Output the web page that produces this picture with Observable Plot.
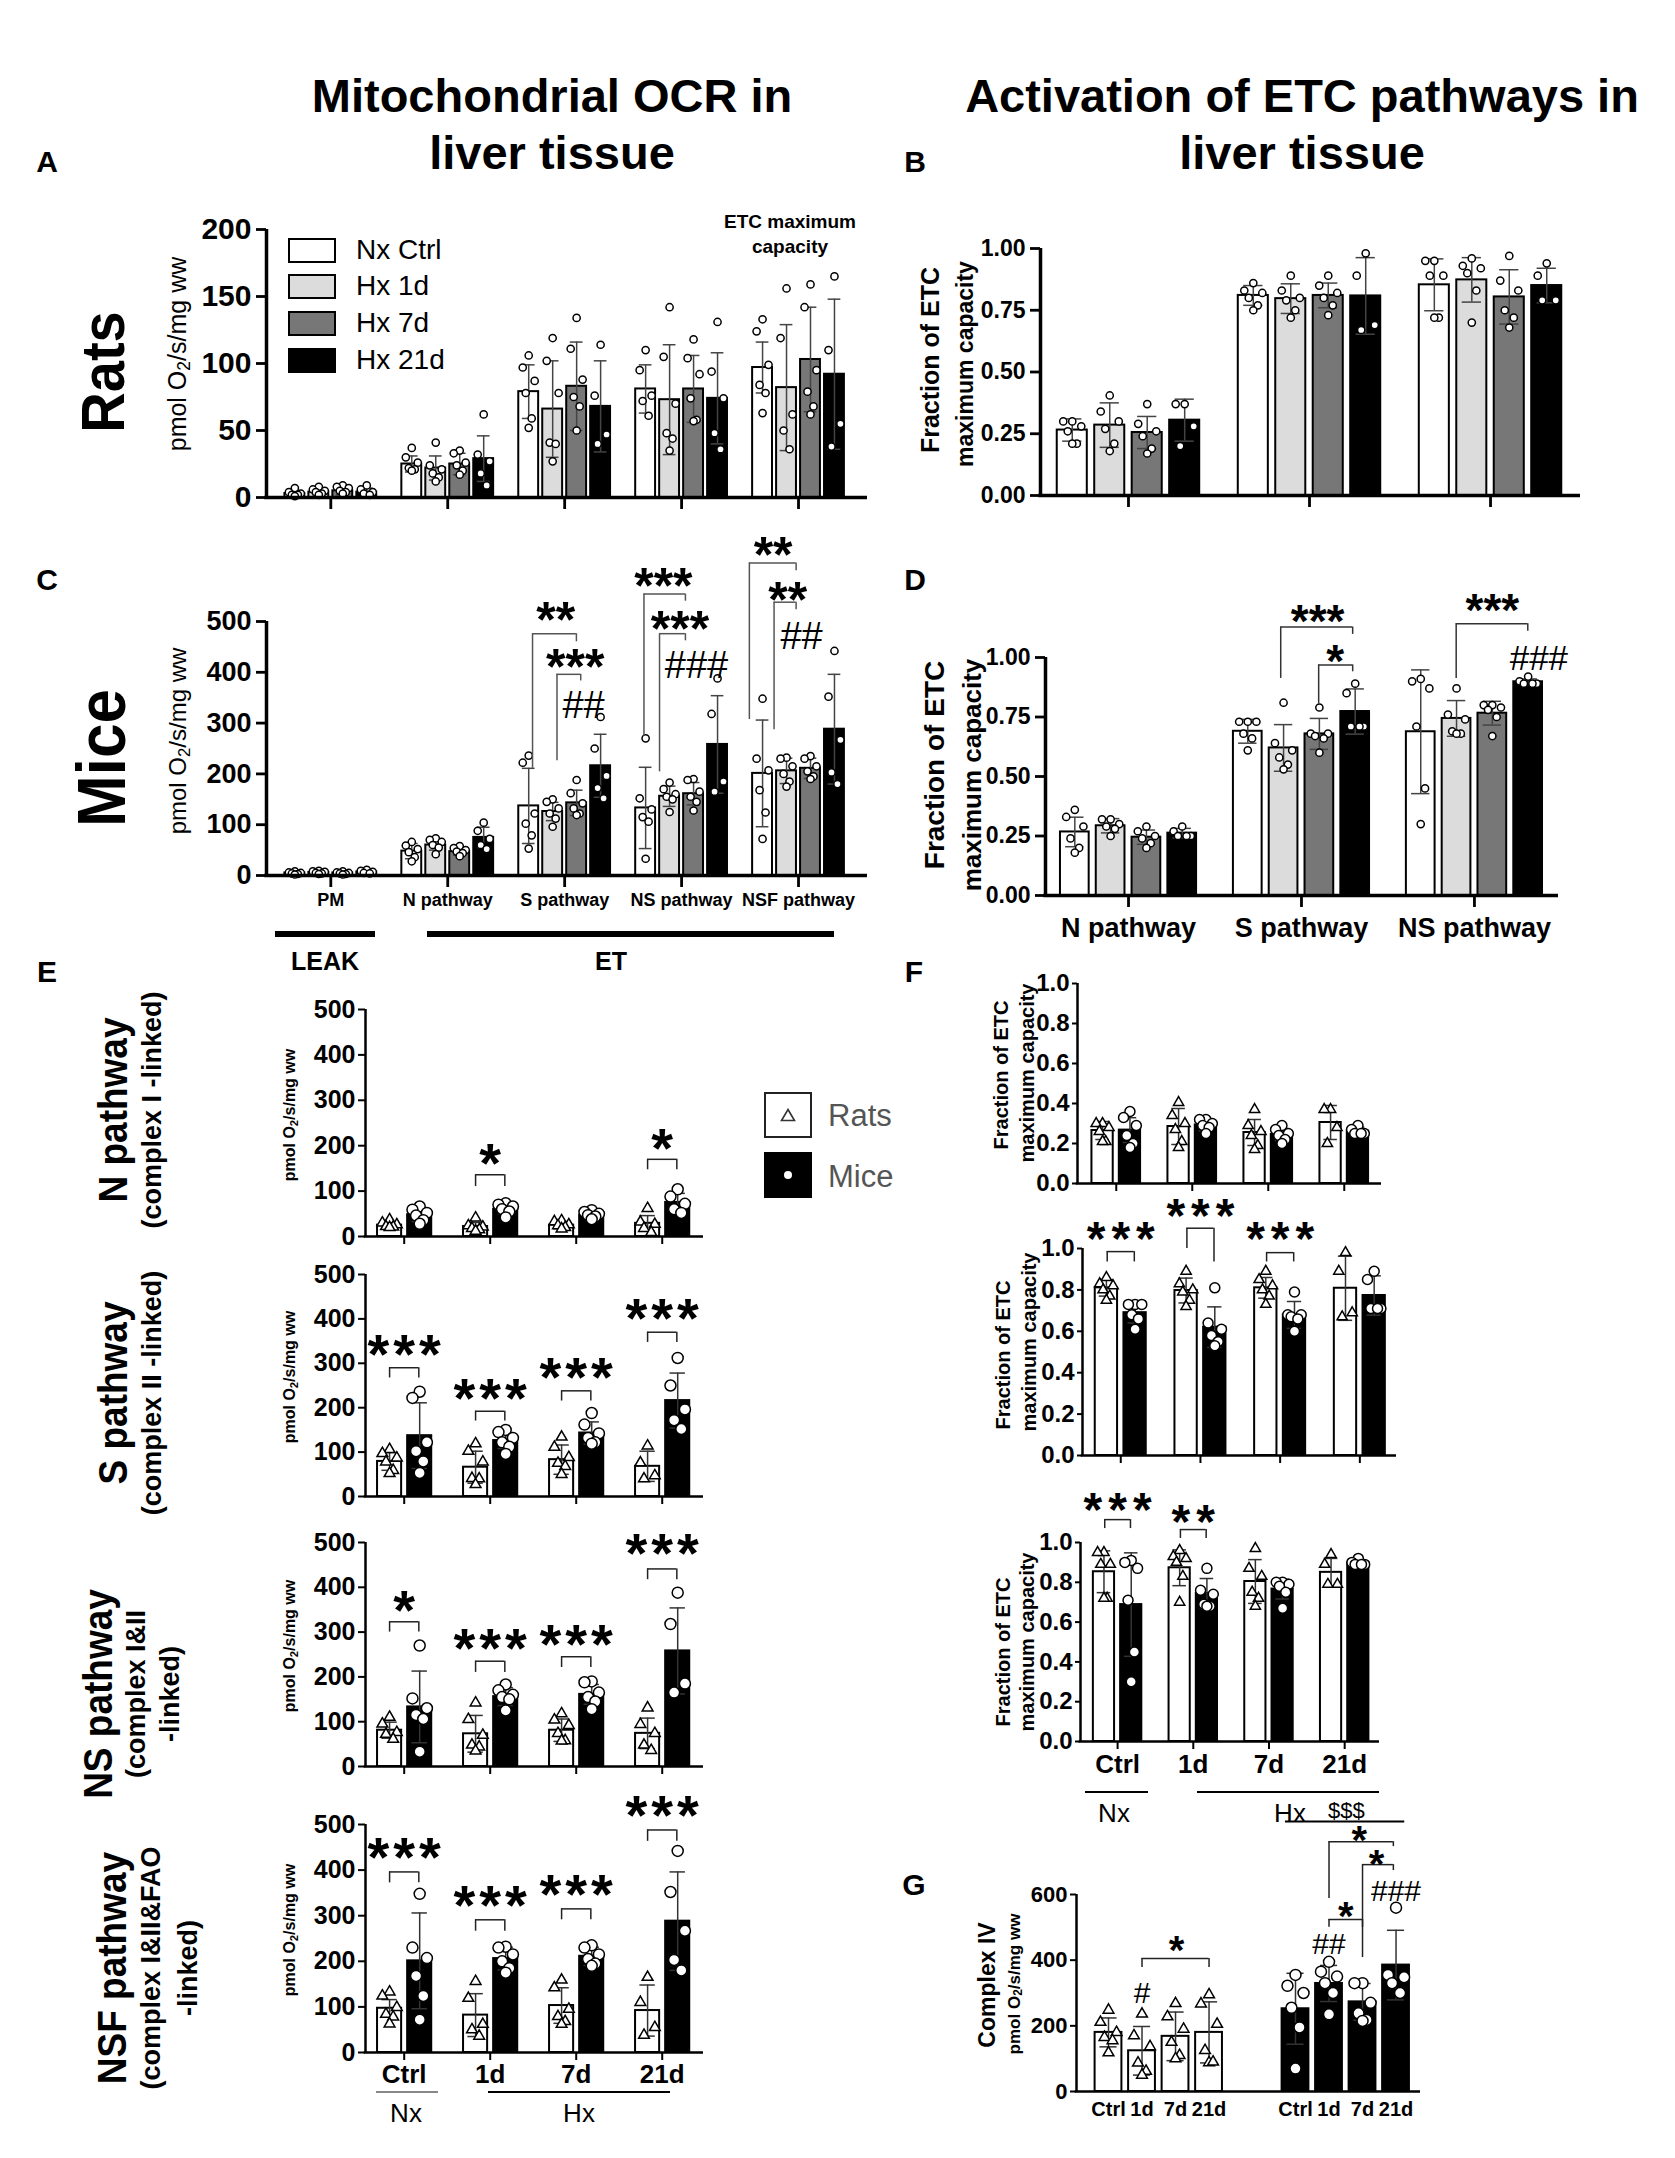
<!DOCTYPE html>
<html>
<head>
<meta charset="utf-8">
<script src="https://cdn.jsdelivr.net/npm/d3@7"></script>
<script src="https://cdn.jsdelivr.net/npm/@observablehq/plot@0.6"></script>
<style>
html,body{margin:0;padding:0;background:#fff;}
#page{position:relative;width:1675px;height:2158px;overflow:hidden;background:#fff;}
sub{font-size:0.7em;vertical-align:-0.25em;line-height:0;}
</style>
</head>
<body>
<div id="page"></div>
<script>
// ======================= DATA =======================
const groups = ["Nx Ctrl", "Hx 1d", "Hx 7d", "Hx 21d"];
const times = ["Ctrl", "1d", "7d", "21d"];
const ocrCats = ["PM", "N pathway", "S pathway", "NS pathway", "NSF pathway"];
const fracCats = ["N pathway", "S pathway", "NS pathway"];

// Panel A: rats OCR (pmol O2/s/mg ww), [category][group]
const ratsOcrMean = [[3, 4, 5, 4], [25, 22, 25, 29], [79, 66, 83, 68], [81, 73, 81, 74], [97, 82, 103, 92]];
const ratsOcrSd = [[2, 2, 3, 3], [6, 9, 8, 17], [20, 36, 33, 34], [18, 41, 25, 34], [19, 47, 39, 56]];
const ratsOcrPts = [
  [[7, 4, 3, 2, 2, 1], [8, 6, 5, 4, 3, 2], [9, 8, 7, 5, 4, 3], [9, 6, 4, 3, 2]],
  [[37, 30, 26, 22, 21, 20], [41, 24, 21, 18, 15, 12], [35, 33, 26, 24, 20, 17], [62, 32, 27, 18, 9]],
  [[106, 97, 87, 78, 59, 52], [119, 102, 78, 41, 40, 27], [134, 111, 88, 75, 68, 50], [114, 76, 47, 40]],
  [[110, 95, 76, 72, 61], [142, 105, 70, 48, 44, 35], [118, 104, 92, 74, 58, 57], [131, 94, 74, 48, 36]],
  [[133, 124, 99, 84, 78, 63], [156, 119, 62, 50, 36], [159, 142, 95, 79, 68, 62], [165, 110, 55, 38]]
];

// Panel C: mice OCR
const miceOcrMean = [[5, 6, 5, 7], [48, 60, 47, 75], [137, 126, 143, 216], [133, 156, 161, 258], [201, 206, 211, 288]];
const miceOcrSd = [[2, 2, 2, 3], [15, 10, 7, 20], [74, 18, 25, 62], [80, 20, 22, 96], [105, 25, 20, 108]];
const miceOcrPts = [
  [[8, 6, 5, 4, 3, 2], [9, 8, 7, 5, 4, 3], [8, 6, 5, 4, 3, 2], [11, 9, 7, 5, 4]],
  [[66, 59, 52, 46, 36, 28], [73, 70, 66, 60, 55, 42], [58, 54, 50, 47, 44, 38], [104, 88, 72, 60, 52]],
  [[236, 222, 122, 102, 79, 53], [150, 145, 132, 122, 112, 96], [188, 162, 142, 132, 122, 119], [312, 250, 196, 172, 152]],
  [[270, 152, 130, 115, 106, 33], [183, 170, 160, 155, 150, 125], [190, 188, 165, 155, 145, 128], [388, 318, 185, 165]],
  [[348, 230, 207, 168, 124, 72], [232, 230, 215, 200, 185, 175], [235, 230, 215, 205, 195, 190], [442, 352, 267, 203, 180]]
];

// Panel B: rats fraction of ETC maximum capacity
const ratsFracMean = [[0.265, 0.285, 0.255, 0.305], [0.81, 0.797, 0.81, 0.808], [0.853, 0.873, 0.804, 0.85]];
const ratsFracSd = [[0.045, 0.09, 0.065, 0.085], [0.04, 0.06, 0.05, 0.155], [0.105, 0.09, 0.11, 0.07]];
const ratsFracPts = [
  [[0.30, 0.30, 0.28, 0.26, 0.21, 0.21], [0.405, 0.34, 0.30, 0.27, 0.21, 0.18], [0.37, 0.29, 0.26, 0.24, 0.19, 0.17], [0.37, 0.37, 0.28, 0.20]],
  [[0.86, 0.83, 0.82, 0.80, 0.77, 0.75], [0.89, 0.83, 0.80, 0.79, 0.75, 0.72], [0.89, 0.85, 0.82, 0.80, 0.77, 0.73], [0.98, 0.89, 0.69, 0.67]],
  [[0.95, 0.95, 0.89, 0.89, 0.72, 0.72], [0.96, 0.93, 0.92, 0.90, 0.83, 0.70], [0.97, 0.87, 0.83, 0.75, 0.72, 0.68], [0.94, 0.89, 0.79, 0.79]]
];

// Panel D: mice fraction of ETC maximum capacity
const miceFracMean = [[0.267, 0.293, 0.245, 0.262], [0.69, 0.62, 0.679, 0.773], [0.688, 0.744, 0.766, 0.898]];
const miceFracSd = [[0.062, 0.03, 0.03, 0.02], [0.05, 0.098, 0.065, 0.095], [0.26, 0.075, 0.05, 0.012]];
const miceFracPts = [
  [[0.36, 0.33, 0.29, 0.24, 0.20, 0.18], [0.32, 0.32, 0.30, 0.29, 0.28, 0.25], [0.29, 0.27, 0.25, 0.24, 0.22, 0.20], [0.29, 0.27, 0.25, 0.25, 0.25]],
  [[0.73, 0.73, 0.73, 0.68, 0.66, 0.61], [0.81, 0.64, 0.61, 0.58, 0.55, 0.53], [0.79, 0.68, 0.68, 0.67, 0.66, 0.60], [0.89, 0.85, 0.71, 0.71, 0.71]],
  [[0.91, 0.90, 0.87, 0.71, 0.45, 0.30], [0.87, 0.76, 0.74, 0.69, 0.68, 0.68], [0.80, 0.80, 0.79, 0.78, 0.75, 0.67], [0.92, 0.90, 0.89, 0.89, 0.89]]
];

// Panel G: complex IV, [species][time]
const civSpecies = ["Rats", "Mice"];
const civMean = [[180, 124, 168, 180], [252, 329, 273, 385]];
const civSd = [[44, 74, 74, 93], [108, 55, 56, 106]];
const civPts = [
  [[248, 211, 180, 165, 155, 118], [236, 170, 137, 87, 62, 50], [268, 228, 190, 150, 110, 100], [295, 267, 205, 125, 88, 90]],
  [[355, 322, 300, 255, 195, 70], [395, 365, 350, 330, 300, 235], [330, 330, 270, 238, 218, 215], [560, 355, 348, 330, 300]]
];

// Significance annotations (group index g within category, values in data units)
const cBrackets = [
  {cat: 2, gL: 0.16, gR: 1.99, y: 476, yL: 211, yR: 460},
  {cat: 2, gL: 1.18, gR: 2.17, y: 396, yL: 226, yR: 383},
  {cat: 3, gL: -0.07, gR: 1.66, y: 554, yL: 274, yR: 540},
  {cat: 3, gL: 0.58, gR: 1.66, y: 476, yL: 204, yR: 462},
  {cat: 4, gL: -0.55, gR: 1.4, y: 615, yL: 307, yR: 600},
  {cat: 4, gL: 0.48, gR: 1.4, y: 538, yL: 287, yR: 523}
];
const cNotes = [
  {cat: 2, g: 1.13, y: 524, text: "**"}, {cat: 2, g: 1.94, y: 432, text: "***"}, {cat: 2, g: 2.29, y: 336, text: "##"},
  {cat: 3, g: 0.74, y: 592, text: "***"}, {cat: 3, g: 1.43, y: 506, text: "***"}, {cat: 3, g: 2.12, y: 414, text: "###"},
  {cat: 4, g: 0.44, y: 652, text: "**"}, {cat: 4, g: 1.05, y: 564, text: "**"}, {cat: 4, g: 1.63, y: 472, text: "##"}
];
const dBrackets = [
  {cat: 1, gL: 0.92, gR: 2.93, y: 1.128, yL: 0.912, yR: 1.097},
  {cat: 1, gL: 1.98, gR: 2.93, y: 0.969, yL: 0.805, yR: 0.94},
  {cat: 2, gL: 0.99, gR: 2.99, y: 1.142, yL: 0.912, yR: 1.11}
];
const dNotes = [
  {cat: 1, g: 1.95, y: 1.196, text: "***"}, {cat: 1, g: 2.44, y: 1.026, text: "*"},
  {cat: 2, g: 2.0, y: 1.24, text: "***"}, {cat: 2, g: 3.3, y: 0.997, text: "###"}
];
// E: rats vs mice per time point (pathway index into ocrCats)
const eAnn = [
  {p: 1, t: 1, y: 136, yl: 110, text: "*", ty: 189}, {p: 1, t: 3, y: 170, yl: 147, text: "*", ty: 223},
  {p: 2, t: 0, y: 290, yl: 267, text: "***", ty: 348}, {p: 2, t: 1, y: 192, yl: 170, text: "***", ty: 250},
  {p: 2, t: 2, y: 238, yl: 215, text: "***", ty: 296}, {p: 2, t: 3, y: 370, yl: 347, text: "***", ty: 429},
  {p: 3, t: 0, y: 323, yl: 300, text: "*", ty: 376}, {p: 3, t: 1, y: 235, yl: 210, text: "***", ty: 292},
  {p: 3, t: 2, y: 245, yl: 221, text: "***", ty: 300}, {p: 3, t: 3, y: 441, yl: 417, text: "***", ty: 505},
  {p: 4, t: 0, y: 396, yl: 372, text: "***", ty: 455}, {p: 4, t: 1, y: 291, yl: 266, text: "***", ty: 350},
  {p: 4, t: 2, y: 315, yl: 291, text: "***", ty: 374}, {p: 4, t: 3, y: 488, yl: 463, text: "***", ty: 547}
];
// F: pathway index into fracCats
const fAnn = [
  {p: 1, t: 0, y: 0.985, yl: 0.935, yr: 0.935, text: "***", ty: 1.10},
  {p: 1, t: 1, y: 1.098, yl: 1.0, yr: 0.935, text: "***", ty: 1.21},
  {p: 1, t: 2, y: 0.98, yl: 0.935, yr: 0.935, text: "***", ty: 1.10},
  {p: 2, t: 0, y: 1.115, yl: 1.07, yr: 1.07, text: "***", ty: 1.22},
  {p: 2, t: 1, y: 1.065, yl: 1.02, yr: 1.02, text: "**", ty: 1.16}
];
// G: species s, time t
const gBrackets = [
  {sL: 0, tL: 1, sR: 0, tR: 3, y: 405, yL: 378, yR: 378},
  {sL: 1, tL: 1, sR: 1, tR: 2.92, y: 761, yL: 588, yR: 746},
  {sL: 1, tL: 2, sR: 1, tR: 2.92, y: 691, yL: 408, yR: 673},
  {sL: 1, tL: 1, sR: 1, tR: 2, y: 524, yL: 500, yR: 500}
];
const gNotes = [
  {s: 0, t: 2.03, y: 457, text: "*"}, {s: 0, t: 1, y: 302, text: "#"},
  {s: 1, t: 1, y: 451, text: "##"}, {s: 1, t: 1.9, y: 792, text: "*"},
  {s: 1, t: 2.42, y: 718, text: "*"}, {s: 1, t: 1.5, y: 560, text: "*"},
  {s: 1, t: 3, y: 612, text: "###"}, {s: 1, t: 1.52, y: 856, text: "$$$"}
];
const gHxLine = [{sL: 1, tL: -0.3, sR: 1, tR: 3.26, y: 822}];

// ======================= RENDER =======================
const FONT = "'Liberation Sans', Arial, Helvetica, sans-serif";
const page = document.getElementById("page");
const FILLS = ["#ffffff", "#dcdcdc", "#777777", "#000000"];

function txt(html, x, y, o = {}) {
  const d = document.createElement("div");
  d.innerHTML = html;
  const size = o.size || 20;
  d.style.cssText = `position:absolute;left:${x}px;top:${y}px;font-family:${FONT};font-size:${size}px;font-weight:${o.weight || "bold"};color:${o.color || "#000"};white-space:nowrap;line-height:1;`;
  const tx = o.anchor === "start" ? "0%" : "-50%";
  d.style.transformOrigin = o.anchor === "start" ? "left center" : "center center";
  d.style.transform = `translate(${tx},-50%)` + (o.psx ? ` scale(${o.psx},1)` : "") + (o.rot ? ` rotate(${o.rot}deg)` : "");
  page.appendChild(d);
}
function box(x, y, w, h, css) {
  const d = document.createElement("div");
  d.style.cssText = `position:absolute;left:${x}px;top:${y}px;width:${w}px;height:${h}px;box-sizing:border-box;${css}`;
  page.appendChild(d);
  return d;
}
function jitter(vals) {
  const pattern = [0, -0.3, 0.3, -0.15, 0.15, 0, -0.3, 0.3];
  const order = vals.map((v, i) => i).sort((a, b) => vals[b] - vals[a]);
  const off = new Array(vals.length);
  order.forEach((k, rank) => { off[k] = pattern[rank % pattern.length]; });
  return off;
}
function grouped(means, sds, pts, step, bw, sym) {
  const bars = [], dots = [];
  means.forEach((row, c) => row.forEach((m, g) => {
    const x = c + (g - 1.5) * step;
    bars.push({x, mean: m, sd: sds[c][g], fill: FILLS[g]});
    const vals = pts[c][g], off = jitter(vals);
    vals.forEach((v, k) => dots.push({x: x + off[k] * bw, v, sym}));
  }));
  return {bars, dots};
}
function pairs(mRat, sRat, pRat, mMice, sMice, pMice, pIdx, offR, offM, bw) {
  const bars = [], dots = [];
  for (let t = 0; t < 4; t++) {
    [[mRat, sRat, pRat, offR, "#ffffff", "triangle"], [mMice, sMice, pMice, offM, "#000000", "circle"]].forEach(([M, S, P, o, f, sym]) => {
      const x = t + o;
      bars.push({x, mean: M[pIdx][t], sd: S[pIdx][t], fill: f});
      const vals = P[pIdx][t], off = jitter(vals);
      vals.forEach((v, k) => dots.push({x: x + off[k] * bw, v, sym}));
    });
  }
  return {bars, dots};
}

function panel(o) {
  const ml = 130, mr = 90, mt = o.mt || 40, mb = 70;
  const pw = o.x1 - o.x0, ph = o.yBot - o.yTop;
  const W = pw + ml + mr, H = ph + mt + mb;
  const [xa, xb] = o.xDomain;
  const ux = (xb - xa) / pw, uy = o.yMax / ph;
  const bw = o.bw, cw = bw * 0.32;
  const ec = o.errColor || "#444";
  const eb = o.bars.map(d => ({x: d.x, lo: Math.max(0, d.mean - d.sd), hi: d.mean + d.sd}));
  const marks = [
    Plot.rectY(o.bars, {x1: d => d.x - bw / 2, x2: d => d.x + bw / 2, y1: 0, y2: "mean", fill: "fill", stroke: "#000", strokeWidth: o.barSW || 2}),
    Plot.ruleX(eb, {x: "x", y1: "lo", y2: "hi", stroke: ec, strokeWidth: 1.5}),
    Plot.ruleY(eb, {y: "hi", x1: d => d.x - cw, x2: d => d.x + cw, stroke: ec, strokeWidth: 1.5}),
    Plot.ruleY(eb.filter(d => d.lo > 0), {y: "lo", x1: d => d.x - cw, x2: d => d.x + cw, stroke: ec, strokeWidth: 1.5})
  ];
  const circ = o.dots.filter(d => d.sym === "circle"), tri = o.dots.filter(d => d.sym === "triangle");
  if (circ.length) marks.push(Plot.dot(circ, {x: "x", y: "v", r: o.r, fill: "#fff", stroke: "#000", strokeWidth: 1.5}));
  if (tri.length) marks.push(Plot.dot(tri, {x: "x", y: "v", r: o.rT || o.r, symbol: "triangle", fill: "#fff", stroke: "#000", strokeWidth: 1.5}));
  const aw = o.axisW;
  marks.push(Plot.ruleY([0], {x1: xa - (aw / 2) * ux, x2: xb, stroke: "#000", strokeWidth: aw}));
  marks.push(Plot.ruleX([xa], {y1: 0, y2: o.yMax, stroke: "#000", strokeWidth: aw}));
  marks.push(Plot.ruleY(o.yTicks, {y: d => d, x1: xa - o.tickLen * ux, x2: xa, stroke: "#000", strokeWidth: aw * 0.8}));
  marks.push(Plot.text(o.yTicks, {x: xa, y: d => d, text: o.yFmt, textAnchor: "end", dx: -(o.tickLen + o.tickPad), fontSize: o.yFont, fontWeight: "bold"}));
  if (o.xTicks) marks.push(Plot.ruleX(o.xTicks, {x: d => d, y1: 0, y2: -o.xTickLen * uy, stroke: "#000", strokeWidth: aw * 0.8}));
  if (o.xLabels) marks.push(Plot.text(o.xLabels, {x: "x", y: 0, text: "text", dy: o.xLabelDy, fontSize: o.xLabelFont, fontWeight: "bold"}));
  if (o.brackets) {
    const bs = {stroke: o.brColor || "#000", strokeWidth: o.brW || 1.5};
    marks.push(Plot.ruleY(o.brackets, {y: "y", x1: "xL", x2: "xR", ...bs}));
    marks.push(Plot.ruleX(o.brackets, {x: "xL", y1: "y", y2: "yL", ...bs}));
    marks.push(Plot.ruleX(o.brackets, {x: "xR", y1: "y", y2: "yR", ...bs}));
  }
  if (o.lines) marks.push(Plot.ruleY(o.lines, {y: "y", x1: "xL", x2: "xR", stroke: "#000", strokeWidth: 2}));
  if (o.notes) {
    const stars = o.notes.filter(n => n.text[0] === "*");
    const other = o.notes.filter(n => n.text[0] !== "*");
    marks.push(Plot.text(stars, {x: "x", y: "y", text: "text", fontSize: o.starFont, fontWeight: "bold", dy: 0.24 * o.starFont}));
    marks.push(Plot.text(other, {x: "x", y: "y", text: "text", fontSize: d => d.size || o.hashFont, fontWeight: "normal", dy: 0.03 * o.hashFont}));
  }
  const svg = Plot.plot({
    width: W, height: H, marginLeft: ml, marginRight: mr, marginTop: mt, marginBottom: mb,
    x: {type: "linear", domain: o.xDomain, axis: null},
    y: {type: "linear", domain: [0, o.yMax], axis: null},
    color: {type: "identity"},
    style: {background: "none", overflow: "visible", fontFamily: FONT, color: "#000"},
    marks
  });
  svg.querySelectorAll("text").forEach(t => {
    if (/^\*+$/.test(t.textContent) && o.starLS) {
      t.setAttribute("letter-spacing", o.starLS);
      t.setAttribute("dx", (parseFloat(t.getAttribute("dx") || 0) + o.starLS / 2) + "");
    }
  });
  svg.style.position = "absolute";
  svg.style.left = (o.x0 - ml) + "px";
  svg.style.top = (o.yTop - mt) + "px";
  page.appendChild(svg);
}

// ---------- Headings ----------
txt("Mitochondrial OCR in", 552, 95, {size: 47});
txt("liver tissue", 552, 152, {size: 47});
txt("Activation of ETC pathways in", 1302, 95, {size: 47});
txt("liver tissue", 1302, 152, {size: 47});
[["A", 47, 162], ["B", 915, 162], ["C", 47, 580], ["D", 915, 580], ["E", 47, 972], ["F", 914, 972], ["G", 914, 1885]]
  .forEach(([l, x, y]) => txt(l, x, y, {size: 30}));
txt("Rats", 103, 372, {size: 56, rot: -90, psx: 1.1});
txt("Mice", 102, 758, {size: 62, rot: -90, psx: 1.1});
const unitHtml = "pmol O<sub>2</sub>/s/mg ww";

// ---------- Panel A ----------
const A = grouped(ratsOcrMean, ratsOcrSd, ratsOcrPts, 0.205, 0.17, "circle");
panel({x0: 266, x1: 867, yTop: 229, yBot: 497, xDomain: [-0.55, 4.59], yMax: 200, yTicks: [0, 50, 100, 150, 200], yFmt: d => String(d),
  yFont: 30, tickLen: 10, tickPad: 5, axisW: 3.5, xTicks: [0, 1, 2, 3, 4], xTickLen: 12, bw: 0.17, ...A, r: 3.6});
txt(unitHtml, 177, 354, {size: 25, weight: "normal", rot: -90});
txt("ETC maximum", 790, 221, {size: 19});
txt("capacity", 790, 246, {size: 19});
groups.forEach((g, i) => {
  const cy = [250, 286, 323, 360][i];
  box(288, cy - 12, 48, 25, `background:${FILLS[i]};border:2px solid #000;`);
  txt(g, 356, cy, {size: 28, weight: "normal", anchor: "start"});
});

// ---------- Panel B ----------
const B = grouped(ratsFracMean, ratsFracSd, ratsFracPts, 0.207, 0.166, "circle");
panel({x0: 1040, x1: 1580, yTop: 248, yBot: 495, xDomain: [-0.486, 2.497], yMax: 1, yTicks: [0, 0.25, 0.5, 0.75, 1], yFmt: d3.format(".2f"),
  yFont: 23, tickLen: 10, tickPad: 5, axisW: 3.5, xTicks: [0, 1, 2], xTickLen: 12, bw: 0.166, ...B, r: 3.6});
txt("Fraction of ETC", 930, 360, {size: 25, rot: -90});
txt("maximum capacity", 965, 364, {size: 23, rot: -90});

// ---------- Panel C ----------
const C = grouped(miceOcrMean, miceOcrSd, miceOcrPts, 0.205, 0.17, "circle");
const cx = (cat, g) => cat + (g - 1.5) * 0.205;
panel({x0: 266, x1: 867, yTop: 621, yBot: 875, xDomain: [-0.55, 4.59], yMax: 500, yTicks: [0, 100, 200, 300, 400, 500], yFmt: d => String(d),
  yFont: 27, tickLen: 10, tickPad: 5, axisW: 3.5, xTicks: [0, 1, 2, 3, 4], xTickLen: 12,
  xLabels: ocrCats.map((t, i) => ({x: i, text: t})), xLabelDy: 25, xLabelFont: 18, bw: 0.17, ...C, r: 3.6, mt: 140,
  brackets: cBrackets.map(b => ({xL: cx(b.cat, b.gL), xR: cx(b.cat, b.gR), y: b.y, yL: b.yL, yR: b.yR})), brColor: "#555", brW: 1.5,
  notes: cNotes.map(n => ({x: cx(n.cat, n.g), y: n.y, text: n.text})), starFont: 50, hashFont: 38});
txt(unitHtml, 178, 741, {size: 24, weight: "normal", rot: -90});
box(275, 931, 100, 6, "background:#000;");
box(427, 931, 407, 6, "background:#000;");
txt("LEAK", 325, 961, {size: 25});
txt("ET", 611, 961, {size: 25});

// ---------- Panel D ----------
const D = grouped(miceFracMean, miceFracSd, miceFracPts, 0.207, 0.166, "circle");
const dx = (cat, g) => cat + (g - 1.5) * 0.207;
panel({x0: 1045, x1: 1558, yTop: 657, yBot: 895, xDomain: [-0.48, 2.486], yMax: 1, yTicks: [0, 0.25, 0.5, 0.75, 1], yFmt: d3.format(".2f"),
  yFont: 23, tickLen: 10, tickPad: 5, axisW: 3.5, xTicks: [0, 1, 2], xTickLen: 12,
  xLabels: fracCats.map((t, i) => ({x: i, text: t})), xLabelDy: 33, xLabelFont: 27, bw: 0.166, ...D, r: 3.6, mt: 120,
  brackets: dBrackets.map(b => ({xL: dx(b.cat, b.gL), xR: dx(b.cat, b.gR), y: b.y, yL: b.yL, yR: b.yR})), brColor: "#333", brW: 1.5,
  notes: dNotes.map(n => ({x: dx(n.cat, n.g), y: n.y, text: n.text})), starFont: 46, hashFont: 35});
txt("Fraction of ETC", 935, 765, {size: 28, rot: -90});
txt("maximum capacity", 972, 775, {size: 26, rot: -90});

// ---------- Panel E ----------
const eRows = [
  {p: 1, top: 1009, bot: 1236, title: "N pathway", sub: ["(complex I -linked)"], tx: 113, sx: [152], cy: 1110},
  {p: 2, top: 1274, bot: 1496, title: "S pathway", sub: ["(complex II -linked)"], tx: 113, sx: [152], cy: 1393},
  {p: 3, top: 1542, bot: 1766, title: "NS pathway", sub: ["(complex I&amp;II", "-linked)"], tx: 98, sx: [136, 170], cy: 1694},
  {p: 4, top: 1824, bot: 2052, title: "NSF pathway", sub: ["(complex I&amp;II&amp;FAO", "-linked)"], tx: 112, sx: [151, 188], cy: 1968}
];
eRows.forEach((row, i) => {
  const E = pairs(ratsOcrMean, ratsOcrSd, ratsOcrPts, miceOcrMean, miceOcrSd, miceOcrPts, row.p, -0.17, 0.18, 0.28);
  const ann = eAnn.filter(a => a.p === row.p);
  const last = i === eRows.length - 1;
  panel({x0: 365, x1: 703, yTop: row.top, yBot: row.bot, xDomain: [-0.45, 3.48], yMax: 500, yTicks: [0, 100, 200, 300, 400, 500], yFmt: d => String(d),
    yFont: 25, tickLen: 7, tickPad: 3, axisW: 2.5, xTicks: [0, 1, 2, 3], xTickLen: 8, bw: 0.28, ...E, r: 5.5, rT: 4, errColor: "#333", mt: 60,
    xLabels: last ? times.map((t, k) => ({x: k, text: t})) : null, xLabelDy: 22, xLabelFont: 26,
    brackets: ann.map(a => ({xL: a.t - 0.17, xR: a.t + 0.17, y: a.y, yL: a.yl, yR: a.yl})), brColor: "#222", brW: 1.5,
    notes: ann.map(a => ({x: a.t, y: a.ty, text: a.text})), starFont: 56, hashFont: 36, starLS: 4});
  txt("pmol O<sub>2</sub>/s/mg ww", 290, (row.top + row.bot) / 2 - 8, {size: 16, rot: -90});
  txt(row.title, row.tx, row.cy, {size: 37, rot: -90, psx: 1.1});
  row.sub.forEach((s, k) => txt(s, row.sx[k], row.cy, {size: 27, rot: -90}));
});
// legend E
box(764, 1092, 48, 46, "background:#fff;border:2px solid #222;");
box(764, 1152, 48, 46, "background:#000;border:2px solid #000;");
const legTri = box(780, 1108, 16, 14, "");
legTri.innerHTML = '<svg width="16" height="14"><polygon points="8,1.5 14.5,12.5 1.5,12.5" fill="none" stroke="#333" stroke-width="1.6"/></svg>';
box(784, 1171, 8, 8, "background:#fff;border-radius:50%;");
txt("Rats", 828, 1115, {size: 31, weight: "normal", anchor: "start", color: "#555"});
txt("Mice", 828, 1176, {size: 31, weight: "normal", anchor: "start", color: "#555"});
// Nx/Hx under E
box(376, 2091, 62, 2, "background:#888;");
box(488, 2091, 182, 2, "background:#000;");
txt("Nx", 406, 2113, {size: 26, weight: "normal"});
txt("Hx", 579, 2113, {size: 26, weight: "normal"});

// ---------- Panel F ----------
const fRows = [
  {p: 0, x0: 1077, x1: 1381, dom: [-0.51, 3.49], top: 983, bot: 1183, l1: [1001, 1075], l2: [1027, 1073]},
  {p: 1, x0: 1082, x1: 1396, dom: [-0.48, 3.46], top: 1248, bot: 1455, l1: [1003, 1355], l2: [1029, 1342]},
  {p: 2, x0: 1080, x1: 1379, dom: [-0.49, 3.46], top: 1542, bot: 1741, l1: [1003, 1652], l2: [1027, 1642]}
];
fRows.forEach((row, i) => {
  const F = pairs(ratsFracMean, ratsFracSd, ratsFracPts, miceFracMean, miceFracSd, miceFracPts, row.p, -0.18, 0.18, 0.28);
  const ann = fAnn.filter(a => a.p === row.p);
  const last = i === fRows.length - 1;
  panel({x0: row.x0, x1: row.x1, yTop: row.top, yBot: row.bot, xDomain: row.dom, yMax: 1, yTicks: [0, 0.2, 0.4, 0.6, 0.8, 1], yFmt: d3.format(".1f"),
    yFont: 24, tickLen: 5, tickPad: 3, axisW: 2.5, xTicks: [0, 1, 2, 3], xTickLen: 8, bw: 0.28, ...F, r: 5, rT: 3.8, errColor: "#333", mt: 70,
    xLabels: last ? times.map((t, k) => ({x: k, text: t})) : null, xLabelDy: 23, xLabelFont: 26,
    brackets: ann.map(a => ({xL: a.t - 0.17, xR: a.t + 0.17, y: a.y, yL: a.yl, yR: a.yr})), brColor: "#222", brW: 1.5,
    notes: ann.map(a => ({x: a.t, y: a.ty, text: a.text})), starFont: 48, hashFont: 34, starLS: 6});
  txt("Fraction of ETC", row.l1[0], row.l1[1], {size: 20, rot: -90});
  txt("maximum capacity", row.l2[0], row.l2[1], {size: 20, rot: -90});
});
box(1085, 1791, 63, 2, "background:#000;");
box(1197, 1791, 182, 2, "background:#000;");
txt("Nx", 1114, 1813, {size: 26, weight: "normal"});
txt("Hx", 1290, 1813, {size: 26, weight: "normal"});

// ---------- Panel G ----------
const GAP = 5.58;
const gxPos = (s, t) => t + (s === 1 ? GAP : 0);
const G = {bars: [], dots: []};
civSpecies.forEach((sp, s) => times.forEach((tm, t) => {
  const x = gxPos(s, t);
  G.bars.push({x, mean: civMean[s][t], sd: civSd[s][t], fill: s === 0 ? "#ffffff" : "#000000"});
  const vals = civPts[s][t], off = jitter(vals);
  vals.forEach((v, k) => G.dots.push({x: x + off[k] * 0.8, v, sym: s === 0 ? "triangle" : "circle"}));
}));
panel({x0: 1076, x1: 1420, yTop: 1894, yBot: 2091, xDomain: [-0.955, 9.31], yMax: 600, yTicks: [0, 200, 400, 600], yFmt: d => String(d),
  yFont: 22, tickLen: 6, tickPad: 3, axisW: 2.5, bw: 0.8, ...G, r: 5.5, rT: 4, errColor: "#333", mt: 130,
  xLabels: civSpecies.flatMap((sp, s) => times.map((tm, t) => ({x: gxPos(s, t), text: tm}))), xLabelDy: 18, xLabelFont: 20,
  brackets: gBrackets.map(b => ({xL: gxPos(b.sL, b.tL), xR: gxPos(b.sR, b.tR), y: b.y, yL: b.yL, yR: b.yR})), brColor: "#222", brW: 1.5,
  lines: gHxLine.map(b => ({xL: gxPos(b.sL, b.tL), xR: gxPos(b.sR, b.tR), y: b.y})),
  notes: gNotes.map(n => ({x: gxPos(n.s, n.t), y: n.y, text: n.text, size: n.text[0] === "$" ? 22 : 30})), starFont: 40, hashFont: 30});
txt("Complex IV", 987, 1985, {size: 23, rot: -90});
txt("pmol O<sub>2</sub>/s/mg ww", 1014, 1984, {size: 17, rot: -90});
</script>
</body>
</html>
